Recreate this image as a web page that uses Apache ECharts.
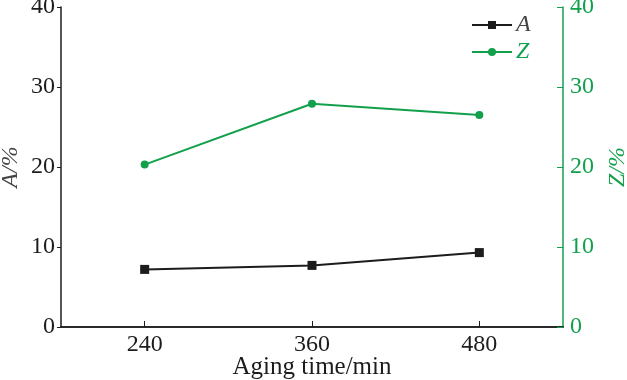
<!DOCTYPE html>
<html><head><meta charset="utf-8">
<script src="https://cdn.jsdelivr.net/npm/echarts@6/dist/echarts.min.js"></script>
<style>html,body{margin:0;padding:0;background:#fff}#c{width:627px;height:380px}</style>
</head><body><div id="c"></div>
<script>
var agingTimes = [240, 360, 480];
var seriesA = [7.2, 7.7, 9.3];
var seriesZ = [20.3, 27.9, 26.5];
var yTicks = [0, 10, 20, 30, 40];

var black = '#1c1c1c', green = '#12a04c';
var font = '"Liberation Serif", "Times New Roman", Times, serif';
var chart = echarts.init(document.getElementById('c'));
chart.setOption({
  animation: false,
  backgroundColor: '#fff',
  grid: {left: 61, right: 64, top: 7, bottom: 53, outerBoundsMode: 'none', containLabel: false},
  legend: {
    orient: 'vertical', left: 471, top: 13, padding: 0, itemGap: 3, itemWidth: 40, itemHeight: 10,
    textStyle: {fontFamily: font, fontSize: 24, fontStyle: 'italic', padding: [0, 0, 0, -1]},
    data: [
      {name: 'A', textStyle: {color: '#444'}},
      {name: 'Z', textStyle: {color: green}}
    ]
  },
  xAxis: [{
    type: 'value', min: 180, max: 540,
    name: 'Aging time/min', nameLocation: 'middle', nameGap: 28, nameMoveOverlap: false,
    nameTextStyle: {fontFamily: font, fontSize: 25, color: black},
    axisLine: {lineStyle: {color: black, width: 1.5}},
    axisTick: {inside: true, length: 6, customValues: agingTimes, lineStyle: {color: black}},
    axisLabel: {customValues: agingTimes, fontFamily: font, fontSize: 24, color: black, margin: 6},
    splitLine: {show: false}
  }, {
    type: 'value', min: 180, max: 540, position: 'top',
    axisLine: {lineStyle: {color: black, width: 1.5}},
    axisTick: {show: false}, axisLabel: {show: false}, splitLine: {show: false}
  }],
  yAxis: [{
    type: 'value', min: 0, max: 40, interval: 10,
    name: 'A/%', nameLocation: 'middle', nameGap: 38, nameRotate: 90, nameMoveOverlap: false,
    nameTextStyle: {fontFamily: font, fontSize: 24, color: '#444', fontStyle: 'italic'},
    axisLine: {show: true, lineStyle: {color: black, width: 1.5}},
    axisTick: {show: true, length: 4, lineStyle: {color: black}},
    axisLabel: {fontFamily: font, fontSize: 24, color: black, margin: 6},
    splitLine: {show: false}
  }, {
    type: 'value', min: 0, max: 40, interval: 10, position: 'right',
    name: 'Z/%', nameLocation: 'middle', nameGap: 43, nameRotate: 90, nameMoveOverlap: false,
    nameTextStyle: {fontFamily: font, fontSize: 24, color: green, fontStyle: 'italic'},
    axisLine: {show: true, lineStyle: {color: green, width: 1.5}},
    axisTick: {show: true, inside: true, length: 6, lineStyle: {color: green}},
    axisLabel: {fontFamily: font, fontSize: 24, color: green, margin: 7},
    splitLine: {show: false}
  }],
  series: [{
    name: 'A', type: 'line', xAxisIndex: 0, yAxisIndex: 0,
    data: agingTimes.map(function (t, i) { return [t, seriesA[i]]; }),
    symbol: 'rect', symbolSize: 9,
    lineStyle: {color: black, width: 2}, itemStyle: {color: black}
  }, {
    name: 'Z', type: 'line', xAxisIndex: 0, yAxisIndex: 1,
    data: agingTimes.map(function (t, i) { return [t, seriesZ[i]]; }),
    symbol: 'circle', symbolSize: 8,
    lineStyle: {color: green, width: 2}, itemStyle: {color: green}
  }]
});
</script></body></html>
